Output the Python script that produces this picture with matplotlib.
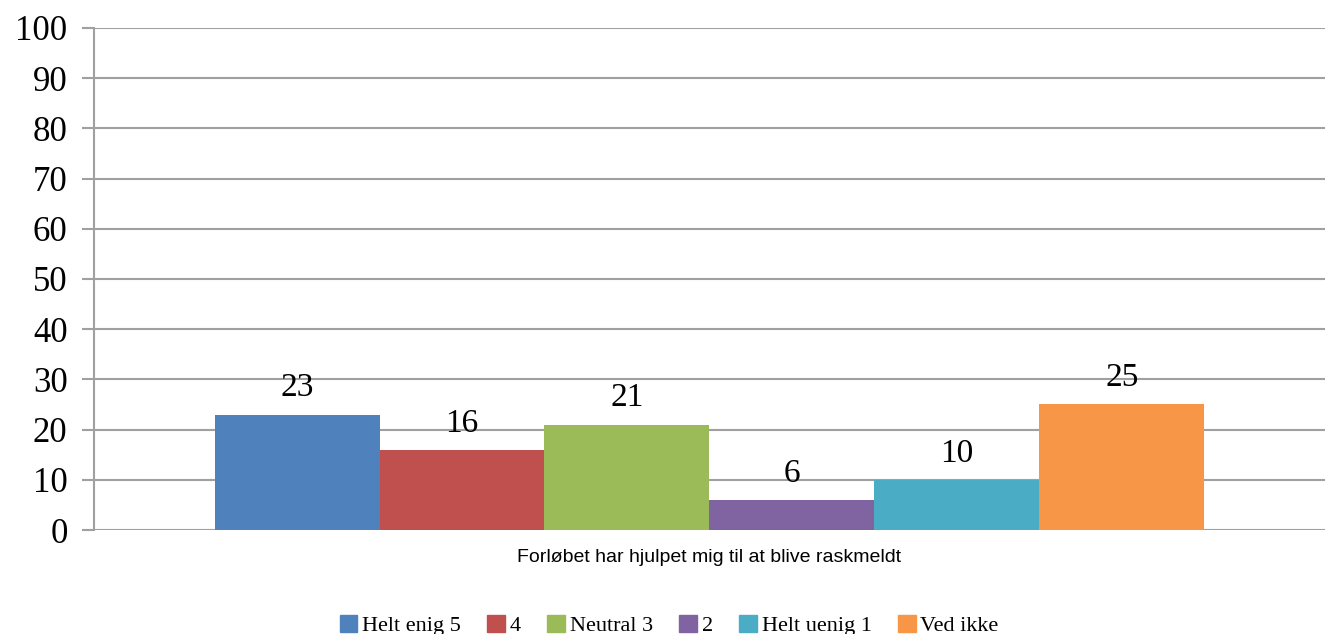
import matplotlib.pyplot as plt
from matplotlib.patches import Patch

# data
categories = ['Helt enig 5', '4', 'Neutral 3', '2', 'Helt uenig 1', 'Ved ikke']
values = [23, 16, 21, 6, 10, 25]
colors = ['#4F81BD', '#C0504D', '#9BBB59', '#8064A2', '#4BACC6', '#F79646']
group_label = 'Forløbet har hjulpet mig til at blive raskmeldt'
yticks = list(range(0, 101, 10))

fig = plt.figure(figsize=(13.25, 6.34), dpi=100)
ax = fig.add_axes([0.0709, 0.164, 0.929, 0.792])

bar_w = 0.134
n = len(values)
start = 0.5 - bar_w * n / 2
for i, (cat, val, col) in enumerate(zip(categories, values, colors)):
    x = start + bar_w * (i + 0.5)
    ax.bar(x, val, width=bar_w, color=col, zorder=3)
    ax.annotate(str(val), (x, val), xytext=(0, 8), textcoords='offset points',
                ha='center', va='bottom', fontsize=24, family='Liberation Serif')

ax.set_xlim(0, 1)
ax.set_ylim(0, 100)
ax.set_yticks(yticks)
ax.set_yticklabels([str(t) for t in yticks], family='Liberation Serif', fontsize=25)
ax.set_xticks([0.5])
ax.set_xticklabels([group_label], family='Liberation Sans', fontsize=14)
ax.tick_params(axis='x', length=0, pad=14)
ax.tick_params(axis='y', length=9, width=1.5, color='#A0A0A0', pad=10)
ax.yaxis.grid(True, color='#A0A0A0', linewidth=1.5, zorder=0)
for s in ['top', 'right', 'bottom']:
    ax.spines[s].set_visible(False)
ax.spines['left'].set_color('#A0A0A0')
ax.spines['left'].set_linewidth(1.5)

handles = [Patch(facecolor=c, edgecolor=c) for c in colors]
fig.legend(handles, categories, loc='lower center', ncol=n, frameon=False,
           prop={'family': 'Liberation Serif', 'size': 16},
           bbox_to_anchor=(0.505, -0.035), handlelength=0.8, handleheight=0.8,
           handletextpad=0.2, columnspacing=1.2)

fig.savefig('out.png', dpi=100, facecolor='white')
